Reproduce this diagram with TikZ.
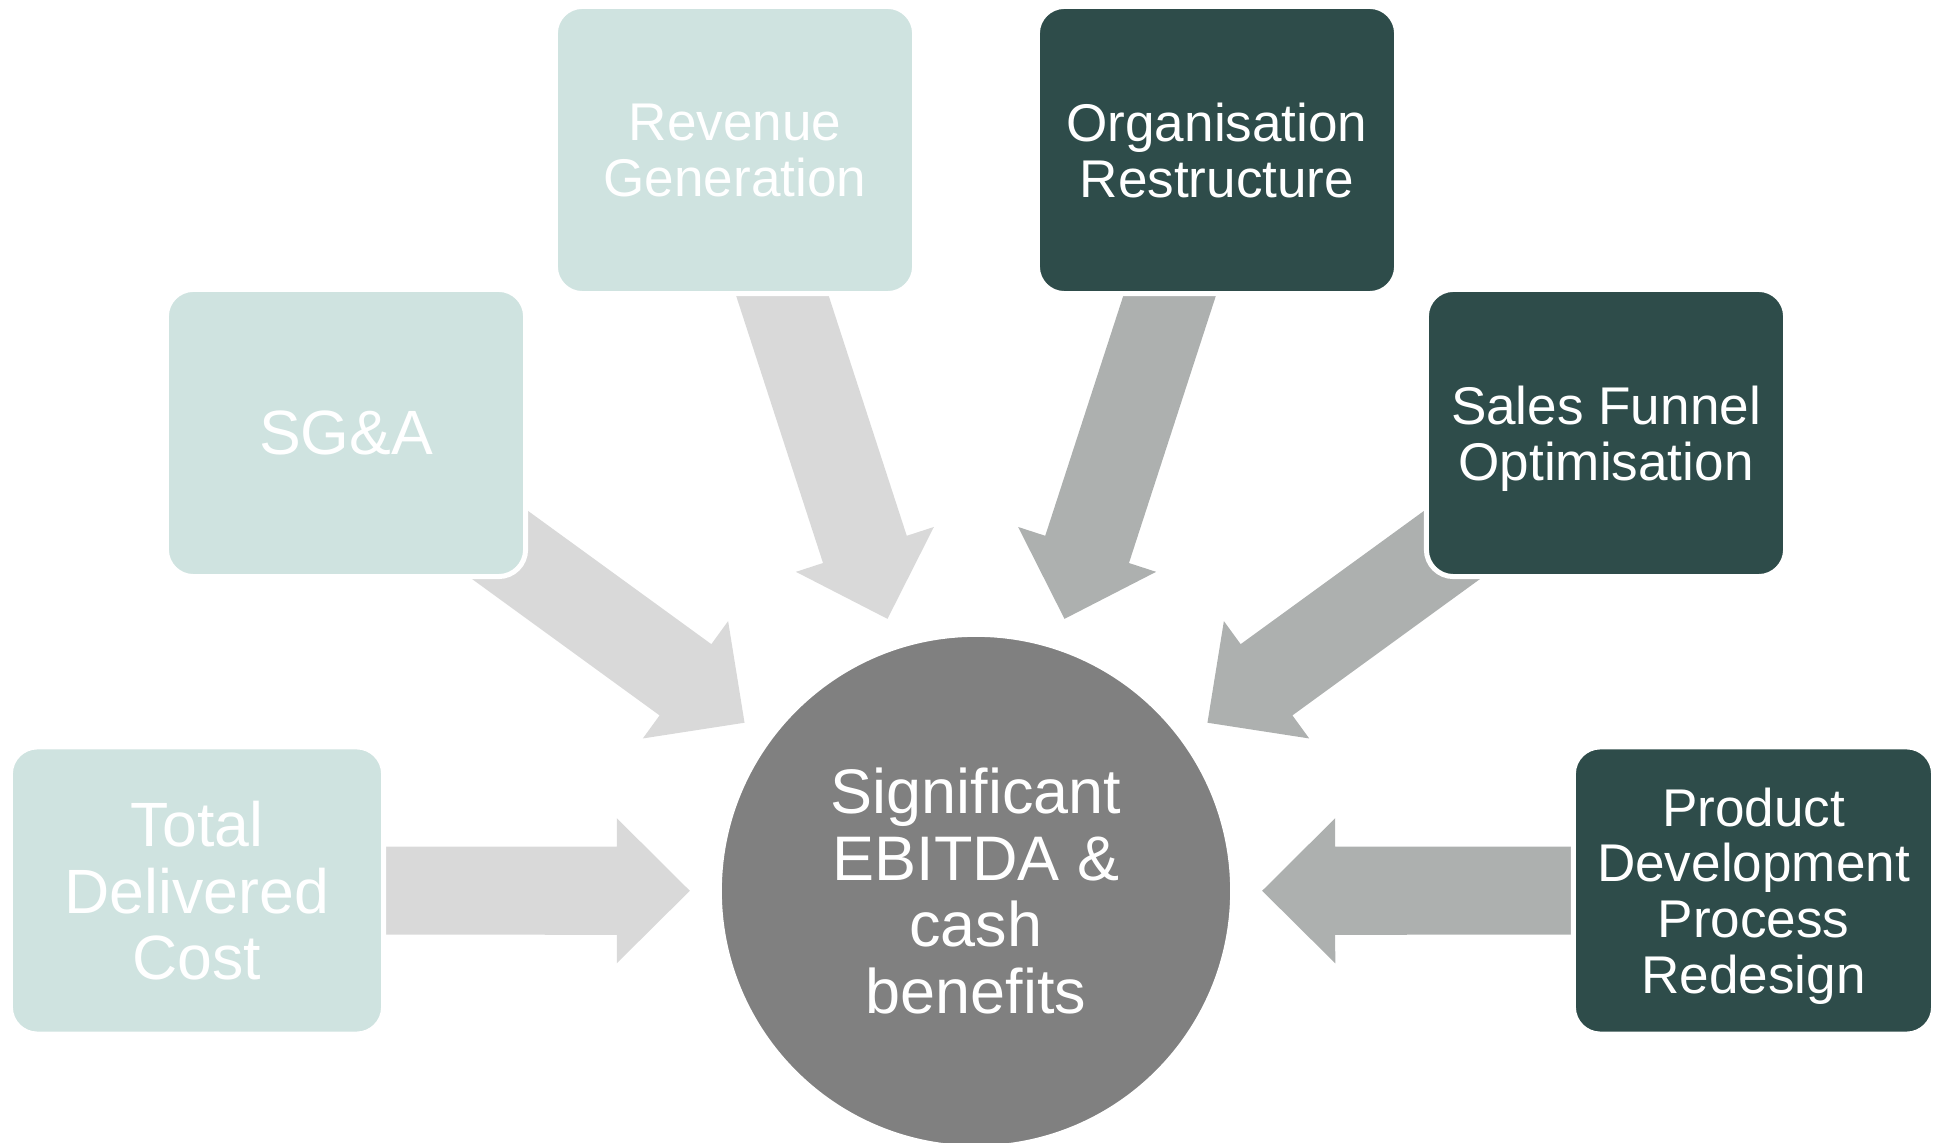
\documentclass[tikz,border=0pt]{standalone}
\usepackage{fontspec}
\setmainfont{Liberation Sans}
\usepackage{tikz}
\usetikzlibrary{calc}
\usetikzlibrary{backgrounds}

\definecolor{paleteal}{HTML}{CFE3E0}
\definecolor{darkteal}{HTML}{2E4C4A}
\definecolor{hubgrey}{HTML}{808080}
\definecolor{palearrow}{HTML}{D9D9D9}
\definecolor{darkarrow}{HTML}{ADB0AF}

\tikzset{
  lever/.style={draw=white, line width=0.05cm, rounded corners=0.27cm,
    minimum width=3.59cm, minimum height=2.87cm, inner sep=0cm,
    text depth=0pt, text=white, align=center},
  palelever/.style={lever, fill=paleteal},
  darklever/.style={lever, fill=darkteal},
  hub/.style={circle, draw=white, line width=0.05cm, fill=hubgrey,
    minimum size=5.13cm, inner sep=0cm, text=white, align=center,
    font=\fontsize{17.9}{18.9}\selectfont},
  smalltext/.style={font=\fontsize{15.1}{15.8}\selectfont},
  bigtext/.style={font=\fontsize{17.8}{19}\selectfont},
}

% fat block arrow from a lever towards the hub
\newcommand{\fatarrow}[2]{%
  \coordinate (tip) at ($(benefit.center)!2.86cm!(#2.center)$);
  \coordinate (base) at ($(tip)!0.73cm!(#2.center)$);
  \fill[#1] ($(#2.center)!0.44cm!90:(tip)$) -- ($(base)!0.44cm!90:(tip)$)
    -- ($(base)!0.725cm!90:(tip)$) -- (tip) -- ($(base)!0.725cm!-90:(tip)$)
    -- ($(base)!0.44cm!-90:(tip)$) -- ($(#2.center)!0.44cm!-90:(tip)$) -- cycle;
}

\begin{document}
\begin{tikzpicture}[x=0.01cm, y=-0.01cm]
\useasboundingbox (0,0) rectangle (1935,1143);

% centre
\node[hub] (benefit) at (976,891) {Significant\\EBITDA \&\\cash\\benefits};

% pale levers
\node[palelever, bigtext, minimum width=3.73cm] (cost) at (197,890.5) {Total\\Delivered\\Cost};
\node[palelever, bigtext] (sga) at (346,433) {SG\&A};
\node[palelever, smalltext] (revenue) at (735,150) {Revenue\\Generation};

% dark levers
\node[darklever, smalltext] (restructure) at (1217,150) {Organisation\\Restructure};
\node[darklever, smalltext] (funnel) at (1606,433) {Sales Funnel\\Optimisation};
\node[darklever, smalltext, minimum width=3.60cm] (product) at (1753.5,890.5) {Product\\Development\\Process\\Redesign};

% arrows go behind the boxes
\begin{pgfonlayer}{background}
\fatarrow{palearrow}{cost}
\fatarrow{palearrow}{sga}
\fatarrow{palearrow}{revenue}
\fatarrow{darkarrow}{restructure}
\fatarrow{darkarrow}{funnel}
\fatarrow{darkarrow}{product}
\end{pgfonlayer}
\end{tikzpicture}
\end{document}
